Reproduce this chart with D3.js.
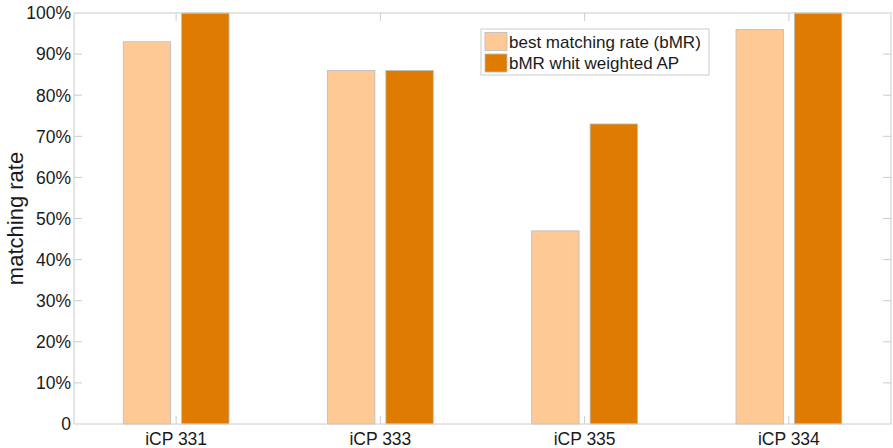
<!DOCTYPE html>
<html>
<head>
<meta charset="utf-8">
<script src="https://cdn.jsdelivr.net/npm/d3@7"></script>
<style>
  body { margin: 0; background: #fff; }
  text { font-family: "Liberation Sans", Arial, sans-serif; fill: #1a1a1a; }
</style>
</head>
<body>
<div class="chart"></div>
<script>
//data
var categories = ["iCP 331", "iCP 333", "iCP 335", "iCP 334"];
var seriesNames = ["best matching rate (bMR)", "bMR whit weighted AP"];
var bmr = [93, 86, 47, 96];
var bmrWeighted = [100, 86, 73, 100];
var yTicks = [0, 10, 20, 30, 40, 50, 60, 70, 80, 90, 100];
var colors = ["#FFC996", "#DE7B00"];

var width = 893, height = 448;
var margin = {top: 13, right: 2, bottom: 24, left: 74};
var innerW = width - margin.left - margin.right;
var innerH = height - margin.top - margin.bottom;

var svg = d3.select(".chart")
    .append("svg")
    .attr("width", width)
    .attr("height", height);

var g = svg.append("g")
    .attr("transform", "translate(" + margin.left + "," + margin.top + ")");

//scales
var x = d3.scaleBand().domain(categories).range([0, innerW]).padding(0);
var y = d3.scaleLinear().domain([0, 100]).range([innerH, 0]);
var barW = x.bandwidth() * 0.232;
var gap = 11;

var seriesData = [bmr, bmrWeighted];

//bars
seriesData.forEach(function(vals, s) {
    g.append("g").selectAll("rect")
        .data(vals)
        .enter()
        .append("rect")
        .attr("x", function(d, i) {
            var c = x(categories[i]) + x.bandwidth() / 2;
            return s == 0 ? c - gap / 2 - barW : c + gap / 2;
        })
        .attr("y", function(d) { return y(d); })
        .attr("width", barW)
        .attr("height", function(d) { return innerH - y(d); })
        .attr("fill", colors[s])
        .attr("stroke", "#bbb")
        .attr("stroke-width", 0.8);
});

//frame
g.append("rect")
    .attr("width", innerW)
    .attr("height", innerH)
    .attr("fill", "none")
    .attr("stroke", "#ccc")
    .attr("stroke-width", 1);

//ticks left/right, inward
yTicks.forEach(function(t) {
    if (t == 0 || t == 100) return;
    g.append("line").attr("x1", 0).attr("x2", 8).attr("y1", y(t)).attr("y2", y(t)).attr("stroke", "#ccc");
    g.append("line").attr("x1", innerW - 8).attr("x2", innerW).attr("y1", y(t)).attr("y2", y(t)).attr("stroke", "#ccc");
});
//x ticks top/bottom
categories.forEach(function(c) {
    var cx = x(c) + x.bandwidth() / 2;
    g.append("line").attr("x1", cx).attr("x2", cx).attr("y1", innerH).attr("y2", innerH - 8).attr("stroke", "#ccc");
    g.append("line").attr("x1", cx).attr("x2", cx).attr("y1", 0).attr("y2", 8).attr("stroke", "#ccc");
});

//y tick labels
g.append("g").selectAll("text")
    .data(yTicks)
    .enter()
    .append("text")
    .attr("x", -3)
    .attr("y", function(d) { return y(d); })
    .attr("dy", "0.36em")
    .attr("text-anchor", "end")
    .style("font-size", "17.5px")
    .text(function(d) { return d == 0 ? "0" : d + "%"; });

//x tick labels
g.append("g").selectAll("text")
    .data(categories)
    .enter()
    .append("text")
    .attr("x", function(d) { return x(d) + x.bandwidth() / 2; })
    .attr("y", innerH + 21)
    .attr("text-anchor", "middle")
    .style("font-size", "17.5px")
    .text(function(d) { return d; });

//y axis title
svg.append("text")
    .attr("transform", "translate(23," + (margin.top + innerH / 2) + ") rotate(-90)")
    .attr("text-anchor", "middle")
    .style("font-size", "22px")
    .text("matching rate");

//legend
var legend = svg.append("g").attr("transform", "translate(481,29)");
legend.append("rect")
    .attr("width", 228)
    .attr("height", 46)
    .attr("fill", "#fff")
    .attr("stroke", "#ccc");
var entry = legend.selectAll(".entry")
    .data(seriesNames)
    .enter()
    .append("g")
    .attr("class", "entry")
    .attr("transform", function(d, i) { return "translate(0," + (3.5 + i * 21.5) + ")"; });
entry.append("rect")
    .attr("x", 4)
    .attr("y", 0)
    .attr("width", 22)
    .attr("height", 18)
    .attr("fill", function(d, i) { return colors[i]; })
    .attr("stroke", "#bbb")
    .attr("stroke-width", 0.8);
entry.append("text")
    .attr("x", 28)
    .attr("y", 15)
    .style("font-size", "17px")
    .text(function(d) { return d; });
</script>
</body>
</html>
